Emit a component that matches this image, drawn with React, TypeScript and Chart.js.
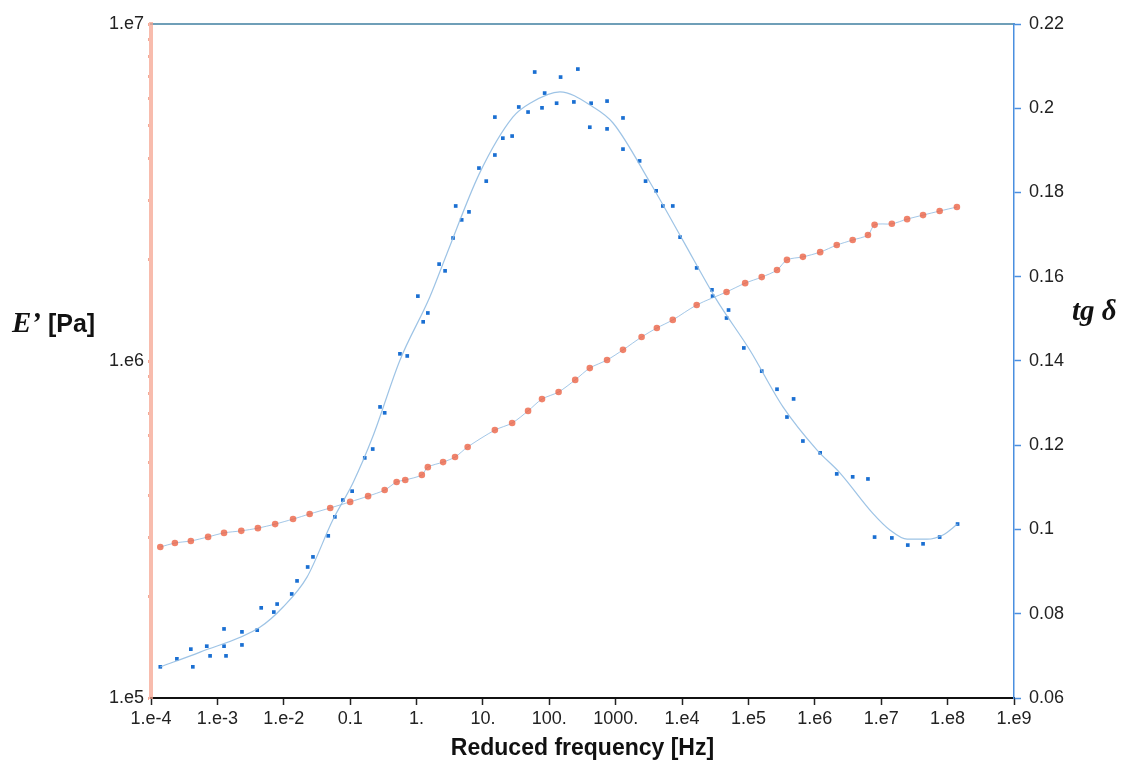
import React, { useEffect, useRef } from "react";
import { Chart, registerables } from "chart.js";

Chart.register(...registerables);

// ---- Storage modulus E' (left axis) ----
const logFreqE = [
  -3.86, -3.64, -3.40, -3.14, -2.90, -2.64, -2.39, -2.13, -1.86, -1.61,
  -1.30, -1.00, -0.73, -0.48, -0.30, -0.17, 0.08, 0.17, 0.40, 0.58,
  0.77, 1.18, 1.44, 1.68, 1.89, 2.14, 2.39, 2.61, 2.87, 3.11,
  3.39, 3.62, 3.86, 4.22, 4.67, 4.95, 5.20, 5.43, 5.58, 5.82,
  6.08, 6.33, 6.57, 6.80, 6.90, 7.16, 7.39, 7.63, 7.88, 8.14,
];
const storageModulusPa = [
  2.805e5, 2.884e5, 2.924e5, 3.006e5, 3.09e5, 3.133e5, 3.192e5, 3.281e5, 3.396e5, 3.516e5,
  3.664e5, 3.819e5, 3.972e5, 4.14e5, 4.375e5, 4.436e5, 4.592e5, 4.842e5, 5.012e5, 5.188e5,
  5.559e5, 6.237e5, 6.546e5, 7.112e5, 7.709e5, 8.091e5, 8.79e5, 9.528e5, 1.007e6, 1.079e6,
  1.178e6, 1.253e6, 1.324e6, 1.466e6, 1.603e6, 1.702e6, 1.774e6, 1.862e6, 1.995e6, 2.037e6,
  2.104e6, 2.208e6, 2.286e6, 2.366e6, 2.535e6, 2.553e6, 2.636e6, 2.71e6, 2.786e6, 2.864e6,
];

// ---- Loss tangent tg delta (right axis), measured points ----
const logFreqTan = [
  -3.86, -3.61, -3.40, -3.37, -3.16, -3.11, -2.90, -2.90, -2.87, -2.63,
  -2.63, -2.40, -2.34, -2.15, -2.10, -1.88, -1.80, -1.64, -1.56, -1.33,
  -1.23, -1.11, -0.97, -0.78, -0.66, -0.55, -0.48, -0.25, -0.14, 0.02,
  0.10, 0.17, 0.34, 0.43, 0.55, 0.59, 0.68, 0.79, 0.94, 1.05,
  1.18, 1.18, 1.30, 1.44, 1.54, 1.68, 1.78, 1.89, 1.93, 2.11,
  2.17, 2.37, 2.43, 2.61, 2.63, 2.87, 2.87, 3.11, 3.11, 3.36,
  3.45, 3.61, 3.71, 3.86, 3.97, 4.22, 4.45, 4.46, 4.67, 4.70,
  4.93, 5.20, 5.43, 5.58, 5.68, 5.82, 6.08, 6.33, 6.57, 6.80,
  6.90, 7.16, 7.40, 7.63, 7.88, 8.15,
];
const tanDelta = [
  0.0674, 0.0693, 0.0716, 0.0674, 0.0723, 0.0700, 0.0723, 0.0764, 0.0700, 0.0726,
  0.0757, 0.0761, 0.0814, 0.0804, 0.0823, 0.0847, 0.0878, 0.0911, 0.0935, 0.0985,
  0.1030, 0.1070, 0.1091, 0.1170, 0.1191, 0.1291, 0.1277, 0.1417, 0.1412, 0.1554,
  0.1493, 0.1514, 0.1630, 0.1614, 0.1692, 0.1768, 0.1735, 0.1754, 0.1858, 0.1827,
  0.1889, 0.1979, 0.1929, 0.1934, 0.2003, 0.1991, 0.2086, 0.2001, 0.2036, 0.2012,
  0.2074, 0.2015, 0.2093, 0.1955, 0.2012, 0.2017, 0.1951, 0.1977, 0.1903, 0.1875,
  0.1827, 0.1804, 0.1768, 0.1768, 0.1694, 0.1621, 0.1569, 0.1554, 0.1502, 0.1521,
  0.1431, 0.1376, 0.1333, 0.1267, 0.1310, 0.1210, 0.1182, 0.1132, 0.1125, 0.1120,
  0.0982, 0.0980, 0.0963, 0.0966, 0.0982, 0.1013,
];

// ---- Fitted tg delta curve ----
const logFreqFit = [
  -3.86, -3.26, -2.36, -2.01, -1.65, -1.26, -0.96, -0.66, -0.25, 0.20,
  0.46, 0.95, 1.45, 1.71, 2.16, 2.66, 2.96, 3.52, 4.01, 4.52,
  5.02, 5.52, 6.03, 6.38, 6.87, 7.13, 7.39, 7.69, 7.93, 8.15,
];
const tanDeltaFit = [
  0.0674, 0.0709, 0.0768, 0.0816, 0.0887, 0.1023, 0.1110, 0.1220, 0.1402, 0.1552,
  0.1656, 0.1846, 0.1979, 0.2012, 0.2039, 0.2003, 0.1965, 0.1823, 0.1687, 0.1545,
  0.1426, 0.1291, 0.1189, 0.1134, 0.1039, 0.0999, 0.0977, 0.0977, 0.0987, 0.1013,
];

// ---- Axis ticks ----
const xTickValues = [1e-4, 1e-3, 1e-2, 1e-1, 1, 10, 100, 1000, 1e4, 1e5, 1e6, 1e7, 1e8, 1e9];
const xTickLabels = ["1.e-4", "1.e-3", "1.e-2", "0.1", "1.", "10.", "100.", "1000.", "1.e4", "1.e5", "1.e6", "1.e7", "1.e8", "1.e9"];
const leftMajorValues = [1e5, 1e6, 1e7];
const leftMajorLabels = ["1.e5", "1.e6", "1.e7"];
const leftMinorValues = [2e5, 3e5, 4e5, 5e5, 6e5, 7e5, 8e5, 9e5, 2e6, 3e6, 4e6, 5e6, 6e6, 7e6, 8e6, 9e6];
const rightTickValues = [0.06, 0.08, 0.1, 0.12, 0.14, 0.16, 0.18, 0.2, 0.22];
const rightTickLabels = ["0.06", "0.08", "0.1", "0.12", "0.14", "0.16", "0.18", "0.2", "0.22"];

const W = 1136;
const H = 774;
const tickFont = { family: "'Liberation Sans', Arial, sans-serif", size: 18 };

export default function App() {
  const canvasRef = useRef<HTMLCanvasElement | null>(null);

  useEffect(() => {
    document.body.style.margin = "0";
    const canvas = canvasRef.current;
    if (!canvas) return;

    const eData = logFreqE.map((lf, i) => ({ x: Math.pow(10, lf), y: storageModulusPa[i] }));
    const tData = logFreqTan.map((lf, i) => ({ x: Math.pow(10, lf), y: tanDelta[i] }));
    const fData = logFreqFit.map((lf, i) => ({ x: Math.pow(10, lf), y: tanDeltaFit[i] }));

    const leftTicks = [...leftMajorValues, ...leftMinorValues].sort((a, b) => a - b);

    const chart = new Chart(canvas, {
      type: "scatter",
      data: {
        datasets: [
          {
            label: "tg δ fit",
            data: fData,
            yAxisID: "y2",
            showLine: true,
            borderColor: "rgba(140,185,225,0.85)",
            borderWidth: 1.2,
            pointRadius: 0,
            tension: 0.4,
            cubicInterpolationMode: "monotone",
          },
          {
            label: "E'",
            data: eData,
            yAxisID: "y",
            showLine: true,
            borderColor: "rgba(140,185,225,0.8)",
            borderWidth: 1,
            pointRadius: 3.3,
            pointBorderWidth: 0,
            pointBackgroundColor: "rgba(236,100,70,0.8)",
            tension: 0.3,
          },
          {
            label: "tg δ",
            data: tData,
            yAxisID: "y2",
            showLine: false,
            pointStyle: "rect",
            pointRadius: 2.6,
            pointBorderWidth: 0,
            pointBackgroundColor: "#1a6fd2",
          },
        ],
      },
      options: {
        animation: false,
        responsive: false,
        maintainAspectRatio: false,
        layout: { padding: { top: 24, left: 0, right: 0, bottom: 0 } },
        plugins: { legend: { display: false }, tooltip: { enabled: false } },
        scales: {
          x: {
            type: "logarithmic",
            position: "bottom",
            min: 1e-4,
            max: 1e9,
            afterBuildTicks: (s: any) => {
              s.ticks = xTickValues.map((v) => ({ value: v }));
            },
            afterFit: (s: any) => {
              s.height = H - 698;
            },
            ticks: {
              autoSkip: false,
              maxRotation: 0,
              minRotation: 0,
              padding: 3,
              color: "#222",
              font: tickFont,
              callback: (_v: any, i: number) => xTickLabels[i],
            },
            grid: {
              drawOnChartArea: false,
              tickLength: 7,
              tickWidth: 1.5,
              tickColor: "#222",
            },
            border: { color: "#111", width: 2 },
            title: {
              display: true,
              text: "Reduced frequency [Hz]",
              color: "#111",
              font: { family: "'Liberation Sans', Arial, sans-serif", size: 23, weight: "bold" },
              padding: { top: 0, bottom: 12 },
            },
          },
          xTop: {
            type: "linear",
            position: "top",
            min: 0,
            max: 1,
            afterFit: (s: any) => {
              s.height = 0;
            },
            ticks: { display: false },
            grid: { drawOnChartArea: false, drawTicks: false },
            border: { color: "#6f9fb8", width: 2 },
          },
          y: {
            type: "logarithmic",
            position: "left",
            min: 1e5,
            max: 1e7,
            afterBuildTicks: (s: any) => {
              s.ticks = leftTicks.map((v) => ({ value: v }));
            },
            afterFit: (s: any) => {
              s.width = 151;
            },
            ticks: {
              autoSkip: false,
              padding: 4,
              color: "#222",
              font: tickFont,
              callback: (v: any) => {
                const idx = leftMajorValues.indexOf(Number(v));
                return idx >= 0 ? leftMajorLabels[idx] : "";
              },
            },
            grid: {
              drawOnChartArea: false,
              tickLength: 3,
              tickWidth: 3,
              tickColor: "rgba(240,140,115,0.75)",
            },
            border: { color: "rgba(246,165,145,0.75)", width: 4 },
          },
          y2: {
            type: "linear",
            position: "right",
            min: 0.06,
            max: 0.22,
            afterBuildTicks: (s: any) => {
              s.ticks = rightTickValues.map((v) => ({ value: v }));
            },
            afterFit: (s: any) => {
              s.width = W - 1014;
            },
            ticks: {
              autoSkip: false,
              padding: 8,
              color: "#222",
              font: tickFont,
              callback: (_v: any, i: number) => rightTickLabels[i],
            },
            grid: {
              drawOnChartArea: false,
              tickLength: 7,
              tickWidth: 1.5,
              tickColor: "#4a8fe0",
            },
            border: { color: "#4a8fe0", width: 1.5 },
          },
        },
      },
    });

    return () => chart.destroy();
  }, []);

  return (
    <div style={{ position: "relative", width: W, height: H, background: "#fff" }}>
      <canvas ref={canvasRef} width={W} height={H} style={{ display: "block", width: W, height: H }} />
      <div
        style={{
          position: "absolute",
          left: 12,
          top: 306,
          whiteSpace: "nowrap",
          color: "#111",
          lineHeight: "32px",
        }}
      >
        <span style={{ fontFamily: "'Liberation Serif', 'Times New Roman', serif", fontStyle: "italic", fontWeight: "bold", fontSize: 29 }}>
          E’
        </span>
        <span style={{ fontFamily: "'Liberation Sans', Arial, sans-serif", fontWeight: "bold", fontSize: 25 }}> [Pa]</span>
      </div>
      <div
        style={{
          position: "absolute",
          left: 1072,
          top: 294,
          whiteSpace: "nowrap",
          color: "#111",
          lineHeight: "32px",
          fontFamily: "'Liberation Serif', 'Times New Roman', serif",
          fontStyle: "italic",
          fontWeight: "bold",
          fontSize: 29,
        }}
      >
        tg δ
      </div>
    </div>
  );
}
